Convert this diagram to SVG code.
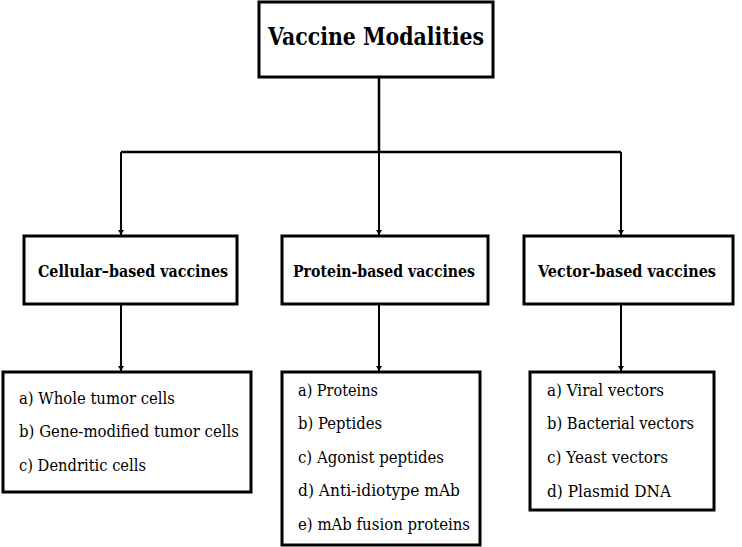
<svg xmlns="http://www.w3.org/2000/svg" width="742" height="547" viewBox="0 0 742 547">
<defs>
<marker id="ah" viewBox="0 0 10 10" refX="10" refY="5" markerWidth="5" markerHeight="6" orient="auto" markerUnits="userSpaceOnUse" preserveAspectRatio="none">
<path d="M0,0 L10,5 L0,10 z" fill="#000"/>
</marker>
<style>
.box{fill:#fff;stroke:#000;stroke-width:3}
.ln{fill:none;stroke:#000;stroke-width:2.5}
.ar{fill:none;stroke:#000;stroke-width:2;marker-end:url(#ah)}
text{font-family:'DejaVu Serif','Liberation Serif','Times New Roman',serif;fill:#000}
.h{font-family:'DejaVu Serif Condensed','DejaVu Serif','Liberation Serif',serif;font-stretch:condensed;font-weight:bold;font-size:16.5px}
.i{font-size:16.5px}
</style>
</defs>
<rect width="742" height="547" fill="#fff"/>
<g id="connectors">
<path class="ln" d="M379,77 V152 M121,152 H621"/>
<path class="ar" d="M121,152 V235"/>
<path class="ar" d="M379,152 V235"/>
<path class="ar" d="M621,152 V235"/>
<path class="ar" d="M121,304 V371"/>
<path class="ar" d="M379,304 V371"/>
<path class="ar" d="M621,304 V371"/>
</g>
<g id="root">
<rect class="box" x="259" y="2" width="234" height="75"/>
<text x="376" y="45" text-anchor="middle" font-weight="bold" font-size="25" textLength="216" lengthAdjust="spacingAndGlyphs">Vaccine Modalities</text>
</g>
<g id="cellular">
<rect class="box" x="24" y="236" width="213" height="68"/>
<text class="h" x="133" y="277" text-anchor="middle" textLength="190" lengthAdjust="spacingAndGlyphs">Cellular–based vaccines</text>
</g>
<g id="protein">
<rect class="box" x="282" y="236" width="206" height="68"/>
<text class="h" x="384" y="277" text-anchor="middle" textLength="182" lengthAdjust="spacingAndGlyphs">Protein-based vaccines</text>
</g>
<g id="vector">
<rect class="box" x="524" y="236" width="209" height="68"/>
<text class="h" x="627" y="277" text-anchor="middle" textLength="178" lengthAdjust="spacingAndGlyphs">Vector-based vaccines</text>
</g>
<g id="cellular-list">
<rect class="box" x="3" y="372" width="248" height="120"/>
<text class="i" x="19" y="404" textLength="156" lengthAdjust="spacingAndGlyphs">a) Whole tumor cells</text>
<text class="i" x="19" y="437" textLength="220" lengthAdjust="spacingAndGlyphs">b) Gene-modified tumor cells</text>
<text class="i" x="19" y="471" textLength="127" lengthAdjust="spacingAndGlyphs">c) Dendritic cells</text>
</g>
<g id="protein-list">
<rect class="box" x="282" y="372" width="198" height="173"/>
<text class="i" x="298" y="396" textLength="80" lengthAdjust="spacingAndGlyphs">a) Proteins</text>
<text class="i" x="298" y="429" textLength="84" lengthAdjust="spacingAndGlyphs">b) Peptides</text>
<text class="i" x="298" y="463" textLength="146" lengthAdjust="spacingAndGlyphs">c) Agonist peptides</text>
<text class="i" x="298" y="496" textLength="162" lengthAdjust="spacingAndGlyphs">d) Anti-idiotype mAb</text>
<text class="i" x="298" y="530" textLength="172" lengthAdjust="spacingAndGlyphs">e) mAb fusion proteins</text>
</g>
<g id="vector-list">
<rect class="box" x="530" y="372" width="184" height="138"/>
<text class="i" x="547" y="396" textLength="117" lengthAdjust="spacingAndGlyphs">a) Viral vectors</text>
<text class="i" x="547" y="429" textLength="147" lengthAdjust="spacingAndGlyphs">b) Bacterial vectors</text>
<text class="i" x="547" y="463" textLength="121" lengthAdjust="spacingAndGlyphs">c) Yeast vectors</text>
<text class="i" x="547" y="497" textLength="124" lengthAdjust="spacingAndGlyphs">d) Plasmid DNA</text>
</g>
</svg>
